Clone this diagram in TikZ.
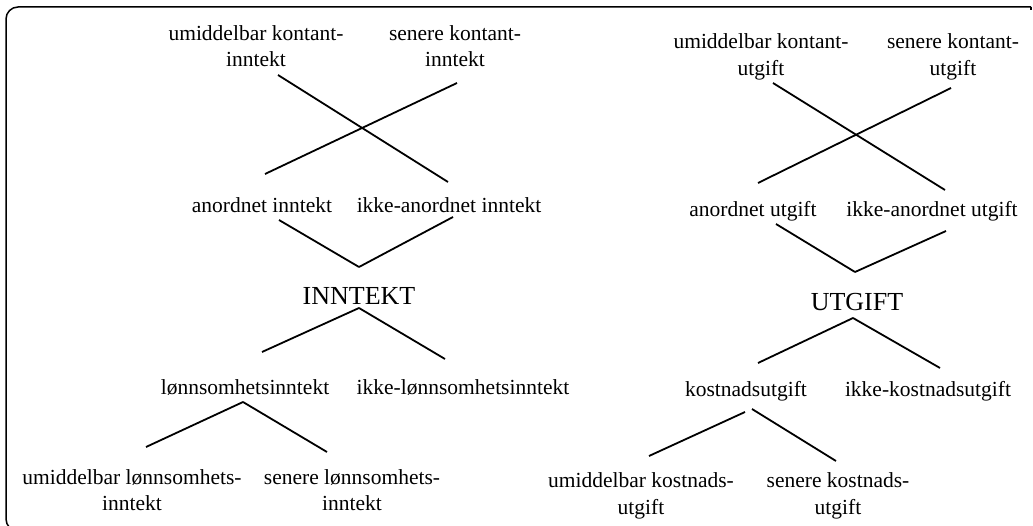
\documentclass[tikz,border=0pt]{standalone}
\usepackage{fontspec}
\setmainfont{Liberation Serif}
\begin{document}
\begin{tikzpicture}[x=1pt,y=-1pt,
  lbl/.style={inner sep=0pt,align=center,font=\fontsize{21.5}{26.5}\selectfont},
  big/.style={inner sep=0pt,font=\fontsize{26}{30}\selectfont},
  conn/.style={line width=1.8pt},
  frame/.style={line width=1.5pt}]
\useasboundingbox (0,0) rectangle (1033,526);
\clip (0,0) rectangle (1033,526);
% frame
\draw[frame,rounded corners=12] (1031,7) -- (6,7) -- (6,531) -- (60,531);
\draw[frame] (1031,7) -- (1031,10);
% left tree
\node[lbl] (lk1) at (256,46) {umiddelbar kontant-\\inntekt};
\node[lbl] (lk2) at (455,46) {senere kontant-\\inntekt};
\node[lbl] (la1) at (262,205) {anordnet inntekt};
\node[lbl] (la2) at (449,205) {ikke-anordnet inntekt};
\node[big] (inn) at (359,296) {INNTEKT};
\node[lbl] (ll1) at (245,387) {lønnsomhetsinntekt};
\node[lbl] (ll2) at (463,387) {ikke-lønnsomhetsinntekt};
\node[lbl] (lu1) at (132,490) {umiddelbar lønnsomhets-\\inntekt};
\node[lbl] (lu2) at (352,490) {senere lønnsomhets-\\inntekt};
% right tree
\node[lbl] (rk1) at (761,57) {umiddelbar kontant-\\utgift};
\node[lbl] (rk2) at (953,57) {senere kontant-\\utgift};
\node[lbl] (ra1) at (753,211) {anordnet utgift};
\node[lbl] (ra2) at (932,211) {ikke-anordnet utgift};
\node[big] (utg) at (857,302) {UTGIFT};
\node[lbl] (rl1) at (746,391) {kostnadsutgift};
\node[lbl] (rl2) at (928,391) {ikke-kostnadsutgift};
\node[lbl] (ru1) at (641,496) {umiddelbar kostnads-\\utgift};
\node[lbl] (ru2) at (838,496) {senere kostnads-\\utgift};
% left connectors
\draw[conn] ([shift={(22,29)}]lk1.center) -- ([shift={(-1,-23)}]la2.center);
\draw[conn] ([shift={(2,37)}]lk2.center) -- ([shift={(3,-31)}]la1.center);
\draw[conn] ([shift={(17,15)}]la1.center) -- ([shift={(0,-29)}]inn.center);
\draw[conn] ([shift={(4,12)}]la2.center) -- ([shift={(0,-29)}]inn.center);
\draw[conn] ([shift={(0,12)}]inn.center) -- ([shift={(17,-35)}]ll1.center);
\draw[conn] ([shift={(0,12)}]inn.center) -- ([shift={(-18,-28)}]ll2.center);
\draw[conn] ([shift={(-2,15)}]ll1.center) -- ([shift={(14,-43)}]lu1.center);
\draw[conn] ([shift={(-2,15)}]ll1.center) -- ([shift={(-25,-38)}]lu2.center);
% right connectors
\draw[conn] ([shift={(12,26)}]rk1.center) -- ([shift={(13,-21)}]ra2.center);
\draw[conn] ([shift={(-2,31)}]rk2.center) -- ([shift={(5,-28)}]ra1.center);
\draw[conn] ([shift={(23,13)}]ra1.center) -- ([shift={(-2,-30)}]utg.center);
\draw[conn] ([shift={(14,20)}]ra2.center) -- ([shift={(-2,-30)}]utg.center);
\draw[conn] ([shift={(-4,16)}]utg.center) -- ([shift={(12,-28)}]rl1.center);
\draw[conn] ([shift={(-4,16)}]utg.center) -- ([shift={(12,-23)}]rl2.center);
\draw[conn] ([shift={(-1,21)}]rl1.center) -- ([shift={(8,-40)}]ru1.center);
\draw[conn] ([shift={(6,18)}]rl1.center) -- ([shift={(-2,-35)}]ru2.center);
\end{tikzpicture}
\end{document}
